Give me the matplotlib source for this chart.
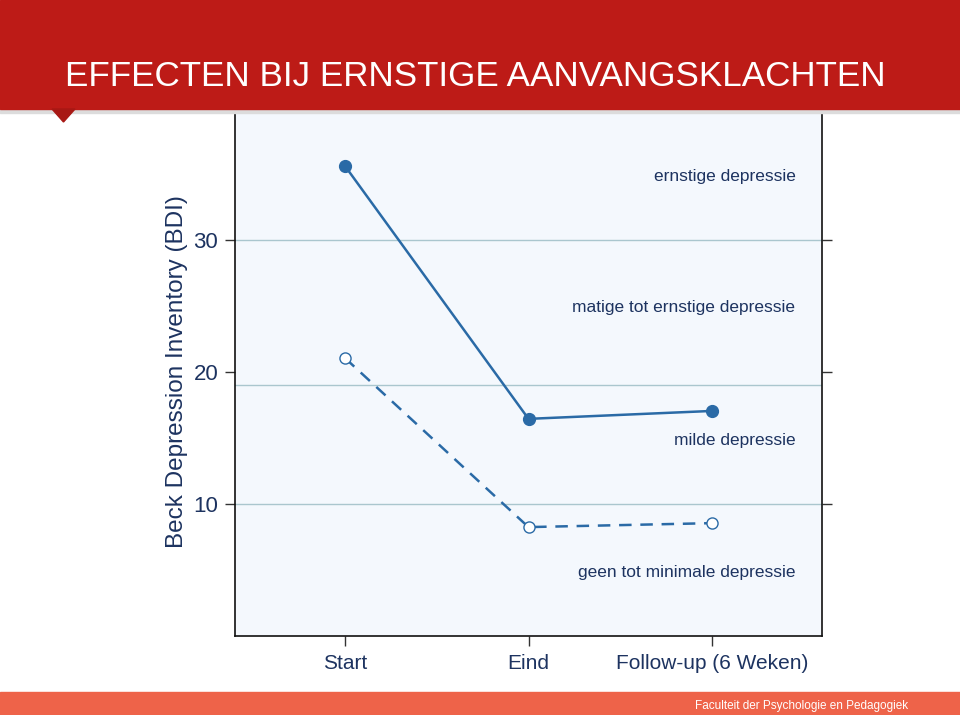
import matplotlib.pyplot as plt
from matplotlib.patches import Rectangle, Polygon

# data
momenten = ["Start", "Eind", "Follow-up (6 Weken)"]
ernstig_a = [35.6, 16.45, 17.05]
ernstig_b = [21.05, 8.25, 8.55]
grenzen = [30, 19, 10]
labels_ernst = ["ernstige depressie", "matige tot ernstige depressie",
                "milde depressie", "geen tot minimale depressie"]
label_y = [34.8, 24.9, 14.8, 4.8]
yticks = [10, 20, 30]

blauw = "#2a6aa6"
navy = "#1d3360"

plt.rcParams['font.family'] = ['Liberation Sans', 'DejaVu Sans']

fig = plt.figure(figsize=(9.6, 7.15), dpi=100)
ax = fig.add_axes([235/960, 1 - 636/715, (822 - 235)/960, (636 - 108)/715])
ax.set_facecolor("#f4f8fd")

x = list(range(len(momenten)))
for g in grenzen:
    ax.axhline(g, color="#aac6ce", lw=1.0, zorder=1)

ax.plot(x, ernstig_a, color=blauw, lw=1.8, marker="o", ms=8.5,
        mfc=blauw, mec=blauw, zorder=3)
ax.plot(x, ernstig_b, color=blauw, lw=1.8, ls=(0, (5, 3.5)), marker="o", ms=8,
        mfc="white", mec=blauw, mew=1.0, zorder=3)

for t, yy in zip(labels_ernst, label_y):
    ax.text(2.455, yy, t, ha="right", va="center", fontsize=12.5, color=navy)

ax.set_xlim(-0.6, 2.6)
ax.set_ylim(0, 40)
ax.set_xticks(x)
ax.set_xticklabels(momenten, fontsize=15, color=navy)
ax.set_yticks(yticks)
ax.set_yticklabels([str(v) for v in yticks], fontsize=16, color=navy)
ax.tick_params(axis="both", length=7, width=1, color="#333333")
ax.tick_params(axis="x", pad=6)
ax.tick_params(axis="y", pad=5, right=True, left=True, labelright=False)
ax.tick_params(axis="x", top=True)
ax.set_ylabel("Beck Depression Inventory (BDI)", fontsize=17.5, color=navy, labelpad=4)
for s in ax.spines.values():
    s.set_color("#111111")
    s.set_linewidth(1.2)

# slide header
fig.patches.append(Rectangle((0, 1 - 113/715), 1, 6/715, transform=fig.transFigure,
                             color="#dcdcdc", zorder=9))
fig.patches.append(Rectangle((0, 1 - 109/715), 1, 109/715, transform=fig.transFigure,
                             color="#bd1b17", zorder=10))
fig.patches.append(Polygon([(52/960, 1 - 109/715), (75/960, 1 - 109/715),
                            (63.5/960, 1 - 122/715)], closed=True,
                           transform=fig.transFigure, color="#a81814", zorder=10))
fig.text(65/960, 1 - 76/715, "EFFECTEN BIJ ERNSTIGE AANVANGSKLACHTEN",
         fontsize=25.2, color="white", ha="left", va="center", zorder=11)

# footer
fig.patches.append(Rectangle((0, 0), 1, 23/715, transform=fig.transFigure,
                             color="#ee6349", zorder=10))
fig.text(908/960, 9/715, "Faculteit der Psychologie en Pedagogiek",
         fontsize=8.5, color="white", ha="right", va="center", zorder=11)

fig.savefig("out.png", dpi=100)
